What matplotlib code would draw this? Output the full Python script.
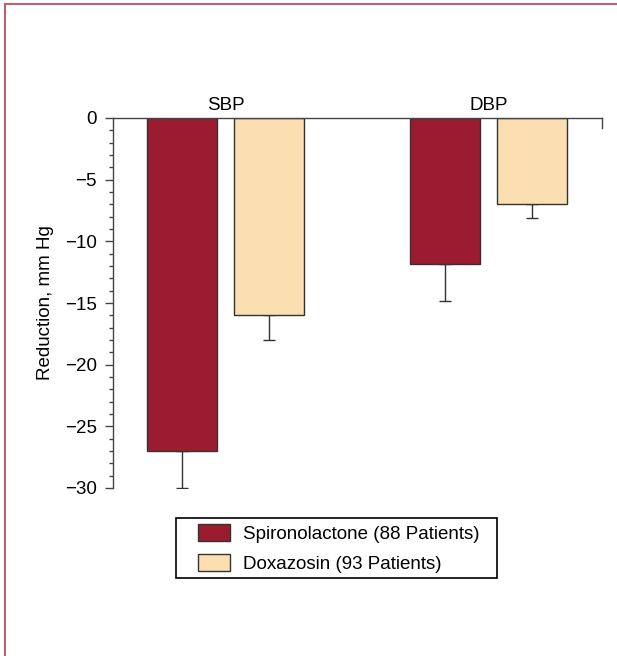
import numpy as np
import matplotlib.pyplot as plt
from matplotlib.lines import Line2D
from matplotlib.patches import Rectangle
from matplotlib.ticker import MultipleLocator

plt.rcParams['font.family'] = ['Liberation Sans', 'DejaVu Sans']

# blood pressure reduction, mm Hg
groups = ['SBP', 'DBP']
series = ['Spironolactone (88 Patients)', 'Doxazosin (93 Patients)']
spiro = np.array([-27.0, -11.8])
spiro_err = np.array([3.0, 3.0])
doxa = np.array([-16.0, -7.0])
doxa_err = np.array([2.0, 1.1])

colors = ['#9b1c31', '#fbdfb0']
edge = '#333333'
axc = '#444444'
fs = 13.5

W, H = 617, 656
fig = plt.figure(figsize=(W / 100, H / 100), dpi=100)
ax = fig.add_axes([113 / W, 1 - 488 / H, 489 / W, 370 / H])

# frame round the figure (left + top)
fig.add_artist(Line2D([5 / W, 5 / W], [0, 1 - 4 / H], color='#c0606e', lw=1.5))
fig.add_artist(Line2D([5 / W, 1], [1 - 4 / H, 1 - 4 / H], color='#c0606e', lw=1.5))

w = 1.0
gap = 0.243
centers = np.array([1.61, 5.37])
x1 = centers - (w + gap) / 2
x2 = centers + (w + gap) / 2

ax.bar(x1, spiro, w, color=colors[0], edgecolor=edge, lw=1, label=series[0], zorder=2)
ax.bar(x2, doxa, w, color=colors[1], edgecolor=edge, lw=1, label=series[1], zorder=2)
ax.errorbar(x1, spiro, yerr=[spiro_err, np.zeros(2)], fmt='none', ecolor=edge,
            elinewidth=1, capsize=4.5, capthick=1, zorder=1)
ax.errorbar(x2, doxa, yerr=[doxa_err, np.zeros(2)], fmt='none', ecolor=edge,
            elinewidth=1, capsize=4.5, capthick=1, zorder=1)

ax.set_xlim(0, 489 / 70)
ax.set_ylim(-30, 0)
ax.yaxis.set_major_locator(MultipleLocator(5))
ax.yaxis.set_minor_locator(MultipleLocator(1))
ax.tick_params(axis='y', which='major', length=5.8, width=1, color=axc, labelsize=fs, pad=6)
ax.tick_params(axis='y', which='minor', length=3, width=1, color=axc)

ax.xaxis.tick_top()
ax.set_xticks(centers)
ax.set_xticklabels(groups, fontsize=fs)
ax.tick_params(axis='x', length=0, pad=3)

for s in ['right', 'bottom']:
    ax.spines[s].set_visible(False)
for s in ['left', 'top']:
    ax.spines[s].set_color(axc)
    ax.spines[s].set_linewidth(1)
ax.plot([1, 1], [1, 1 - 10 / 370], transform=ax.transAxes, color=axc, lw=1, clip_on=False)

ax.set_ylabel('Reduction, mm Hg', fontsize=fs, labelpad=8)

# legend box
fig.add_artist(Rectangle((176 / W, 1 - 578 / H), 321 / W, 60 / H, transform=fig.transFigure,
                         fill=False, edgecolor='black', lw=1.2))
fig.legend(loc='upper left', bbox_to_anchor=(198 / W, 1 - 524 / H), fontsize=fs,
           frameon=False, handlelength=1.7, handleheight=1.0, handletextpad=0.7,
           labelspacing=0.62, borderpad=0, borderaxespad=0)

fig.savefig('out.png', dpi=100)
